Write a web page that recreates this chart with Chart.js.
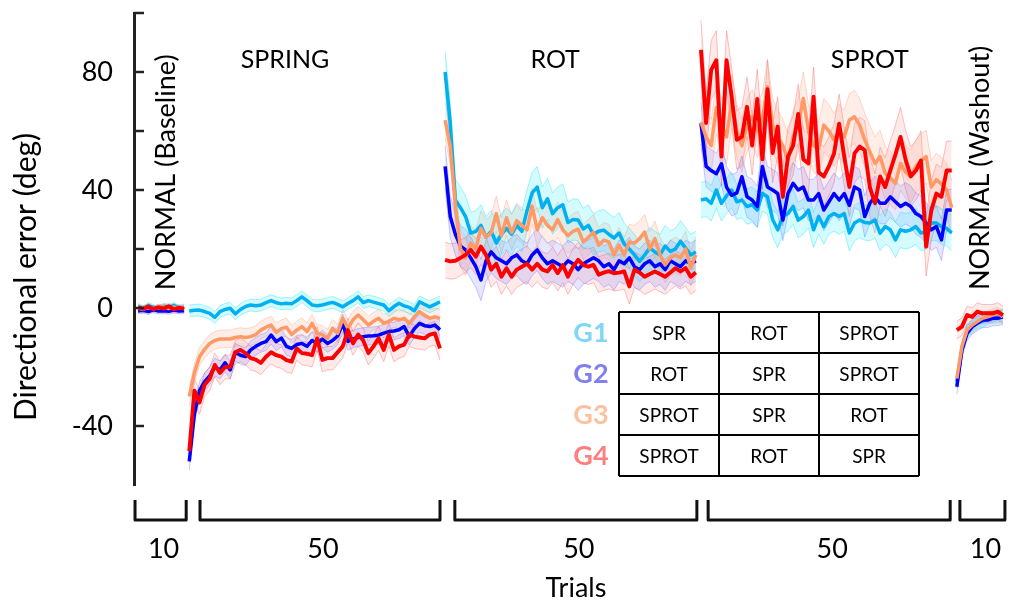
<!DOCTYPE html>
<html>
<head>
<meta charset="utf-8">
<script src="https://cdn.jsdelivr.net/npm/chart.js@4.4.1/dist/chart.umd.min.js"></script>
<style>
  html, body { margin: 0; padding: 0; background: #fff; }
  #wrap { position: relative; width: 1011px; height: 609px; }
</style>
</head>
<body>
<div id="wrap"><canvas id="errChart"></canvas></div>
<script>
// blocks of the session
const blockNames = ['NORMAL (Baseline)', 'SPRING', 'ROT', 'SPROT', 'NORMAL (Washout)'];
const blockLengths = [10, 50, 50, 50, 10];
const bracketLabels = ['10', '50', '50', '50', '10'];
const yTickLabels = [80, 40, 0, -40];

// groups and their block order (table)
const groupNames = ['G1', 'G2', 'G3', 'G4'];
const tableRows = [
    ['SPR', 'ROT', 'SPROT'],
    ['ROT', 'SPR', 'SPROT'],
    ['SPROT', 'SPR', 'ROT'],
    ['SPROT', 'ROT', 'SPR']
];

// mean directional error per trial (deg), one array per group and block
const g1Base = [0.5, -0.3, 0.8, 0.2, -0.5, 0.6, 0.1, 0.9, -0.2, 0.3];
const g1Spring = [-1, -0.8, -0.7, -1.2, -1.8, -3.2, -1.2, -0.5, -0.1, -2, -0.5, 0.5, 1, 0.8, 1, 1.8, 2.5, 1.8, 1.4, 1.6,
    1.4, 2.5, 3.8, 2.5, 1, 0.8, 1, 1.5, 1.9, 1.2, 0.4, 1.5, 2.5, 3.8, 1.8, 2.5, 2, 1.5, 1, -0.9,
    0.5, 1.6, 0.7, 0.2, -0.9, 2.1, 1.2, 0.4, 1.2, 2.1];
const g1Rot = [80, 62.7, 36.6, 34, 31, 25.4, 26, 28, 24, 26, 22, 25, 27, 25, 28, 26, 33, 39, 41, 34,
    37, 32, 34, 35, 29, 30, 29.8, 26.8, 28, 24.9, 26, 26.4, 25, 23.7, 25.4, 21.7, 20, 18, 15.8, 18,
    20.3, 19, 18, 21, 19.2, 20, 22.6, 20.3, 18, 19];
const g1Sprot = [36.6, 37, 35.5, 40, 35.5, 38, 40, 36, 36.6, 34.4, 35, 33.2, 38.8, 37.7, 30, 26.5, 31, 32, 34.4, 29.8,
    31, 33.2, 26.5, 31, 27.6, 31, 32, 31, 32, 25.4, 28.8, 29.8, 29, 28.8, 29.8, 25.4, 27.6, 26.5, 23.1, 26.5,
    26, 26.5, 27.6, 25.4, 26, 28.8, 28.8, 27.6, 27, 25.4];
const g1Wash = [-25, -14, -8, -6.5, -5, -4.5, -3.5, -3.2, -3, -2.5];

const g2Base = [-1, -0.8, -1.2, -0.6, -1, -0.9, -1.1, -0.7, -1, -0.9];
const g2Spring = [-52, -36, -28, -25, -23, -20, -21, -18.6, -21, -15, -16, -16.5, -14.2, -13, -12, -11.4, -9.2, -11.4, -10.2, -13,
    -13.7, -12.4, -12, -13, -11, -12, -10.5, -12, -11, -9.5, -5.1, -11.3, -10.5, -10, -9.7, -9.5, -9.4, -9.2, -8.5, -8,
    -7.8, -7.4, -6.3, -9.7, -7, -5.2, -6, -6.3, -5.8, -7.4];
const g2Rot = [48, 31, 25, 21, 19.7, 17, 14, 9.5, 16, 19, 17, 16, 15, 17, 18, 16, 15, 18, 19.7, 17,
    15, 16, 15, 14, 16, 15, 13, 15, 16, 17, 16, 14, 15, 13, 16, 15, 17, 14, 13, 15,
    16, 14, 15, 13, 16, 15, 14, 16, 15, 16];
const g2Sprot = [62.6, 48, 46.6, 45.5, 48.9, 41, 38.2, 39, 44.5, 37.7, 36.6, 34.4, 48, 41, 40, 38.8, 29.8, 38.8, 42.3, 40,
    41, 36.6, 36.6, 38.8, 33.2, 36, 38.8, 36.6, 38.8, 34.8, 41, 40, 31, 35.5, 37.7, 35.5, 35.5, 37.7, 36, 34.4,
    35.5, 34.4, 32, 31, 28.8, 26.5, 27.6, 23.1, 33.2, 33.2];
const g2Wash = [-26.7, -14.2, -8.6, -6.3, -5.2, -4.1, -4.1, -3.5, -3.5, -3];

const g3Base = [0, -0.5, 0.2, -0.3, 0.1, 0.4, -0.2, 0.3, -0.1, 0];
const g3Spring = [-30, -22, -16.5, -14, -12, -11, -10.5, -10.5, -10.5, -10, -9.7, -10, -9.7, -9, -7.5, -6.5, -5.8, -8.2, -7, -6.5,
    -9, -7.5, -6.3, -8, -5.2, -8.6, -9, -10.3, -6.9, -8.6, -3.5, -6.9, -4, -2.4, -4, -5.8, -4.5, -3.5, -5.2, -4.5,
    -3.5, -4, -3.5, -5.2, -3, -1.2, -2.5, -3.5, -3, -3.5];
const g3Rot = [63.7, 54.7, 35, 20, 17, 22, 20, 27, 24, 25.5, 32, 24.5, 30.6, 25.6, 29.6, 28, 26.5, 34.6, 26.5, 30.6,
    28, 26.5, 30, 26.5, 24.5, 26, 26.7, 22.4, 24, 25.7, 21.3, 23, 22.4, 18, 21.3, 18, 22.4, 22, 23.5, 25.7,
    20, 23.5, 18, 14.6, 17, 18, 17, 20, 13.5, 18];
const g3Sprot = [63, 58, 55, 68, 62, 58, 70, 60, 55, 62, 65, 60, 64, 75, 62, 58, 55, 50, 58, 62,
    71, 60, 55, 54, 62, 60, 57, 60, 58, 63.7, 64.8, 62, 57, 53, 49, 51.3, 45.7, 44, 42.3, 49,
    46, 44.6, 48, 50, 51.3, 41, 43.5, 42, 40, 34];
const g3Wash = [-23.9, -13, -7.5, -5.8, -4.6, -3.5, -3, -2.4, -1.8, -3];

const g4Base = [0.2, -0.3, 0.5, -0.4, 0.3, -0.2, 0.6, -0.5, 0.1, -0.3];
const g4Spring = [-48.5, -28, -32, -26, -24, -19.3, -22, -20, -20, -15, -14.2, -15.3, -17, -17.5, -18.6, -16.5, -15, -16, -16.5, -17.7,
    -18.2, -13.7, -15.3, -15.5, -16, -10.3, -17.6, -17, -17, -15, -13, -7.5, -12, -9, -11, -15.3, -13, -10.3, -14.2, -9,
    -14.2, -13, -12.4, -9, -9.7, -10, -10.3, -9, -8.6, -13.7];
const g4Rot = [16.3, 15.8, 16, 17, 18, 19.7, 17.4, 20.8, 18, 13, 15, 10.6, 13.5, 10.6, 13, 14, 15, 13, 15, 13,
    12.4, 14.6, 11.8, 14.6, 10.6, 14, 16.3, 14.5, 14, 14.6, 11.3, 12, 12.5, 11.8, 12, 12.4, 7.3, 13, 12, 10.6,
    11.5, 12.4, 11.5, 10.6, 12, 13.5, 12.4, 13.5, 10.6, 12];
const g4Sprot = [87.5, 62.7, 80.7, 84, 51.3, 84, 71.6, 57, 58, 68.2, 55.1, 70.9, 50.4, 74.2, 52.5, 61.5, 37.7, 51.3, 55, 65.8,
    50.4, 49, 71.6, 46, 44.6, 48, 52.4, 62.5, 51.3, 41, 52.4, 54.7, 53.5, 41, 35.5, 44.6, 41, 46.6, 52, 58,
    50.2, 44.6, 46.6, 50, 20.8, 33, 38.8, 37.7, 46.6, 46.6];
const g4Wash = [-7.5, -6.3, -2.4, -3, -1.2, -1.8, -1.8, -1.8, -1.2, -2.4];

// standard error per block (deg)
const g1Se = [1, 2, 7, 6, 2];
const g2Se = [1, 3, 7, 7, 2.5];
const g3Se = [1, 3, 6, 9, 2];
const g4Se = [1, 4, 6, 10, 3];

const groupBlocks = [
    [g1Base, g1Spring, g1Rot, g1Sprot, g1Wash],
    [g2Base, g2Spring, g2Rot, g2Sprot, g2Wash],
    [g3Base, g3Spring, g3Rot, g3Sprot, g3Wash],
    [g4Base, g4Spring, g4Rot, g4Sprot, g4Wash]
];
const groupSe = [g1Se, g2Se, g3Se, g4Se];

// styles
const lineColors = ['#00b0f0', '#0000ff', '#ff9966', '#ff0000'];
const bandFills = ['rgba(0,235,255,0.17)', 'rgba(90,90,255,0.15)', 'rgba(255,150,110,0.16)', 'rgba(255,90,90,0.13)'];
const bandEdges = ['rgba(0,225,255,0.45)', 'rgba(90,90,255,0.4)', 'rgba(255,150,110,0.45)', 'rgba(255,60,60,0.4)'];
const labelColors = ['#7fd7f7', '#7f7ff0', '#ffc0a0', '#ff7f7f'];
const FONT = 'Lato, "Open Sans", sans-serif';

// bracket spans under the axis, in trial units
const bracketSpans = [[0.4, 10.4], [13.1, 60], [62.9, 110.2], [112.4, 159.7], [161.6, 170.4]];

function blockStart(b) {
    return blockLengths.slice(0, b).reduce((a, n) => a + n, 0);
}

function buildPoints(g, k) {
    const pts = [];
    groupBlocks[g].forEach((vals, b) => {
        const s = blockStart(b);
        vals.forEach((v, i) => pts.push({ x: s + i + 1, y: v + k * groupSe[g][b] }));
        pts.push({ x: s + vals.length + 0.5, y: null });
    });
    return pts;
}

const datasets = [];
groupNames.forEach((name, g) => {
    datasets.push({
        label: name + ' upper',
        data: buildPoints(g, 1),
        borderColor: bandEdges[g],
        borderWidth: 0.8,
        pointRadius: 0,
        fill: false,
        spanGaps: false,
        order: 20 + g * 2
    });
    datasets.push({
        label: name + ' lower',
        data: buildPoints(g, -1),
        borderColor: bandEdges[g],
        backgroundColor: bandFills[g],
        borderWidth: 0.8,
        pointRadius: 0,
        fill: '-1',
        spanGaps: false,
        order: 21 + g * 2
    });
});
groupNames.forEach((name, g) => {
    datasets.push({
        label: name,
        data: buildPoints(g, 0),
        borderColor: lineColors[g],
        borderWidth: g === 3 ? 3.9 : 3.5,
        pointRadius: 0,
        fill: false,
        spanGaps: false,
        order: 3 - g
    });
});

const decorations = {
    id: 'decorations',
    afterDraw(chart) {
        const { ctx, scales: { x, y } } = chart;
        ctx.save();

        // inward tick marks on the y axis
        ctx.strokeStyle = '#222';
        ctx.lineWidth = 2.5;
        for (let v = -40; v <= 100; v += 20) {
            const py = y.getPixelForValue(v);
            ctx.beginPath();
            ctx.moveTo(x.left, py);
            ctx.lineTo(x.left + 10, py);
            ctx.stroke();
        }

        // y axis title
        ctx.fillStyle = '#000';
        ctx.textAlign = 'center';
        ctx.textBaseline = 'middle';
        ctx.font = '30px ' + FONT;
        ctx.save();
        ctx.translate(26, 277);
        ctx.rotate(-Math.PI / 2);
        ctx.fillText('Directional error (deg)', 0, 0);
        ctx.restore();

        // block titles
        const titlePos = [[6.45, 46], [29.7, 84], [82.5, 84], [144, 84], [165.5, 47.5]];
        blockNames.forEach((t, b) => {
            const px = x.getPixelForValue(titlePos[b][0]);
            const py = y.getPixelForValue(titlePos[b][1]);
            if (b === 0 || b === 4) {
                ctx.font = '27px ' + FONT;
                ctx.save();
                ctx.translate(px, py);
                ctx.rotate(-Math.PI / 2);
                ctx.fillText(t, 0, 0);
                ctx.restore();
            } else {
                ctx.font = '25px ' + FONT;
                ctx.fillText(t, px, py);
            }
        });

        // group / block order table
        const tLeft = 619, tTop = 312, colW = 100, rowH = 41;
        ctx.strokeStyle = '#000';
        ctx.lineWidth = 2;
        ctx.fillStyle = '#fff';
        ctx.fillRect(tLeft, tTop, colW * 3, rowH * 4);
        for (let r = 0; r <= 4; r++) {
            ctx.beginPath();
            ctx.moveTo(tLeft, tTop + r * rowH);
            ctx.lineTo(tLeft + colW * 3, tTop + r * rowH);
            ctx.stroke();
        }
        for (let c = 0; c <= 3; c++) {
            ctx.beginPath();
            ctx.moveTo(tLeft + c * colW, tTop);
            ctx.lineTo(tLeft + c * colW, tTop + rowH * 4);
            ctx.stroke();
        }
        tableRows.forEach((row, r) => {
            const cy = tTop + r * rowH + rowH / 2 + 1;
            ctx.font = '19px ' + FONT;
            ctx.fillStyle = '#000';
            row.forEach((cell, c) => ctx.fillText(cell, tLeft + c * colW + colW / 2, cy));
            ctx.font = 'bold 27px ' + FONT;
            ctx.fillStyle = labelColors[r];
            ctx.fillText(groupNames[r], 591, cy);
        });

        // brackets with trial counts
        ctx.strokeStyle = '#111';
        ctx.lineWidth = 3;
        ctx.lineJoin = 'round';
        ctx.font = '27px ' + FONT;
        ctx.fillStyle = '#000';
        bracketSpans.forEach((sp, b) => {
            const xl = x.getPixelForValue(sp[0]);
            const xr = Math.min(x.getPixelForValue(sp[1]), 1008);
            ctx.beginPath();
            ctx.moveTo(xl, 500);
            ctx.lineTo(xl, 520);
            ctx.lineTo(xr, 520);
            ctx.lineTo(xr, 500);
            ctx.stroke();
            ctx.fillText(bracketLabels[b], (xl + xr) / 2 + 3, 549);
        });
        ctx.fillText('Trials', 576, 588);

        ctx.restore();
    }
};

new Chart(document.getElementById('errChart'), {
    type: 'line',
    data: { datasets },
    plugins: [decorations],
    options: {
        responsive: true,
        maintainAspectRatio: false,
        animation: false,
        layout: { padding: { top: 13, bottom: 124, right: 3, left: 0 } },
        plugins: {
            legend: { display: false },
            tooltip: { enabled: false }
        },
        elements: { line: { tension: 0, borderJoinStyle: 'round' } },
        scales: {
            x: {
                type: 'linear',
                min: 0.2,
                max: 171,
                display: false
            },
            y: {
                min: -60,
                max: 100,
                afterFit(scale) {
                    scale.width = 134;
                    scale.paddingTop = 0;
                    scale.paddingBottom = 0;
                },
                border: { display: true, color: '#222', width: 3 },
                grid: { drawOnChartArea: false, drawTicks: false },
                ticks: {
                    stepSize: 20,
                    padding: 21,
                    color: '#000',
                    font: { size: 27, family: FONT },
                    callback: (v) => yTickLabels.includes(v) ? String(v) : ''
                },
                title: { display: false }
            }
        }
    }
});
</script>
</body>
</html>
